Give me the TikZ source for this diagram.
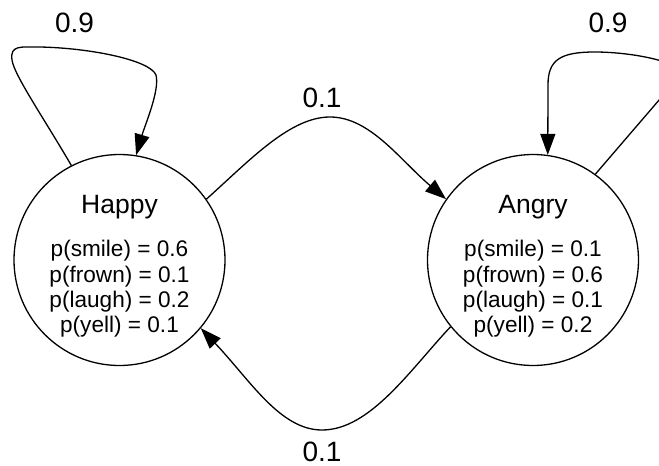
\documentclass[tikz,border=0pt]{standalone}
\usepackage{fontspec}
\setmainfont{Liberation Sans}
\usetikzlibrary{arrows.meta}
\begin{document}
\begin{tikzpicture}[x=1pt,y=-1pt,
  state/.style={draw, circle, line width=1.3pt, minimum size=211pt, inner sep=0pt},
  title/.style={font=\fontsize{26.5}{30}\selectfont, anchor=base, inner sep=0pt},
  probs/.style={font=\fontsize{22.6}{25.2}\selectfont, align=center, anchor=base, inner sep=0pt},
  lbl/.style={font=\fontsize{28}{30}\selectfont, anchor=base, inner sep=0pt},
  arr/.style={line width=1.3pt, -{Triangle[length=21pt,width=15pt]}}]
\useasboundingbox (0,0) rectangle (659,466);
\node[state] (H) at (119.5,260) {};
\node[state] (A) at (533,260) {};
\node[title] (Ht) at (119.5,213) {Happy};
\node[title] (At) at (533,213) {Angry};
\node[probs] (Hp) at (119.5,332.5) {p(smile) = 0.6\\p(frown) = 0.1\\p(laugh) = 0.2\\p(yell) = 0.1};
\node[probs] (Ap) at (533,332.5) {p(smile) = 0.1\\p(frown) = 0.6\\p(laugh) = 0.1\\p(yell) = 0.2};
\node[lbl] (l1) at (74.5,32) {0.9};
\node[lbl] (l2) at (608,32) {0.9};
\node[lbl] (l3) at (322,107) {0.1};
\node[lbl] (l4) at (322,461) {0.1};
% Happy self loop
\draw[arr] (H.117) .. controls (45,120) and (14,75) .. (12,60)
  .. controls (10,45) and (20,47) .. (40,47)
  .. controls (90,48) and (150,60) .. (156,75)
  .. controls (160,90) and (145,125) .. (H.81);
% Angry self loop
\draw[arr] (A.54) -- (672,85) .. controls (690,62) and (680,65) .. (658,60)
  .. controls (640,55) and (615,52) .. (595,52)
  .. controls (560,52) and (548,60) .. (548,85) -- (A.82);
% Happy -> Angry
\draw[arr] (H.35) .. controls (250,160) and (290,117) .. (330,117)
  .. controls (370,117) and (400,160) .. (A.145);
% Angry -> Happy
\draw[arr] (A.219) .. controls (410,370) and (370,430) .. (322,430)
  .. controls (280,430) and (250,380) .. (H.320);
\end{tikzpicture}
\end{document}
